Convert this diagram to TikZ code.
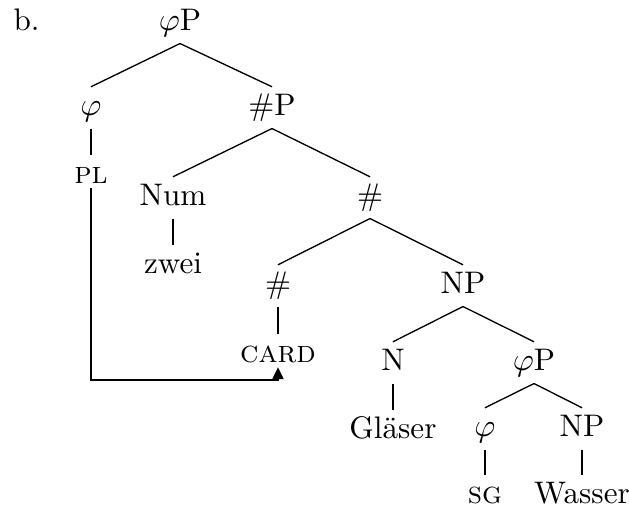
\documentclass[tikz,border=0pt]{standalone}
\usepackage{fontspec}
\usetikzlibrary{arrows.meta}
\begin{document}
\begin{tikzpicture}[x=0.34pt, y=-0.34pt,
  font=\fontsize{10.6pt}{12.7pt}\selectfont,
  lbl/.style={anchor=base, inner xsep=1pt, inner ysep=2.4pt, text height=7pt, text depth=2pt},
  branch/.style={line width=0.45pt},
  movearrow/.style={line width=0.45pt, -{Triangle[length=4pt, width=3.8pt]}}]
  \useasboundingbox (0,0) rectangle (629,512);
  % example label
  \node[anchor=base west, inner sep=0pt] (ex) at (13,30) {b.};
  % tree nodes
  \node[lbl] (phiP)   at (180,30)  {$\varphi$P};
  \node[lbl] (phi)    at (91,115)  {$\varphi$};
  \node[lbl] (numP)   at (272,115) {\#P};
  \node[lbl] (pl)     at (91,183)  {\textsc{pl}};
  \node[lbl] (num)    at (173,205) {Num};
  \node[lbl] (numbar) at (370,205) {\#};
  \node[lbl] (zwei)   at (173,273) {zwei};
  \node[lbl] (numhd)  at (278,293) {\#};
  \node[lbl] (np)     at (463,293) {NP};
  \node[lbl] (card)   at (278,362) {\textsc{card}};
  \node[lbl] (n)      at (393,370) {N};
  \node[lbl] (phiPb)  at (534,370) {$\varphi$P};
  \node[lbl] (glaeser) at (393,438) {Gläser};
  \node[lbl] (phib)   at (485,436) {$\varphi$};
  \node[lbl] (npb)    at (582,436) {NP};
  \node[lbl] (sg)     at (485,503) {\textsc{sg}};
  \node[lbl] (wasser) at (582,503) {Wasser};
  % branches
  \draw[branch] (phiP.south) -- (phi.north);
  \draw[branch] (phiP.south) -- (numP.north);
  \draw[branch] (phi.south) -- (pl.north);
  \draw[branch] (numP.south) -- (num.north);
  \draw[branch] (numP.south) -- (numbar.north);
  \draw[branch] (num.south) -- (zwei.north);
  \draw[branch] (numbar.south) -- (numhd.north);
  \draw[branch] (numbar.south) -- (np.north);
  \draw[branch] (numhd.south) -- (card.north);
  \draw[branch] (np.south) -- (n.north);
  \draw[branch] (np.south) -- (phiPb.north);
  \draw[branch] (n.south) -- (glaeser.north);
  \draw[branch] (phiPb.south) -- (phib.north);
  \draw[branch] (phiPb.south) -- (npb.north);
  \draw[branch] (phib.south) -- (sg.north);
  \draw[branch] (npb.south) -- (wasser.north);
  % movement arrow from PL to CARD
  \coordinate (turn) at (278,380);
  \draw[movearrow] ([yshift=-1.6pt]pl.base) |- (turn) -- ([yshift=-1.8pt]card.base);
\end{tikzpicture}
\end{document}
